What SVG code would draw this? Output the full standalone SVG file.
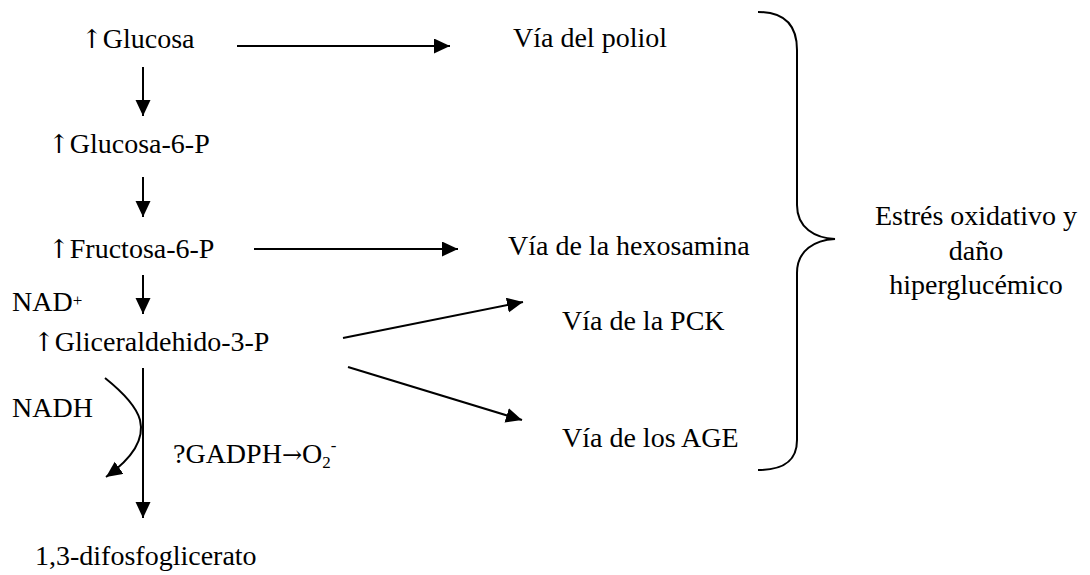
<svg xmlns="http://www.w3.org/2000/svg" width="1090" height="575" viewBox="0 0 1090 575">
<style>
text{font-family:'Liberation Serif','Times New Roman',Times,serif;font-size:28px;fill:#000}
.ar{font-family:'DejaVu Serif',serif;font-size:26px}
.c{stroke:#000;stroke-width:2;fill:none}
.mid{text-anchor:middle}
</style>
<defs>
<marker id="ah" markerUnits="userSpaceOnUse" markerWidth="17" markerHeight="16" refX="16" refY="7.5" orient="auto">
<path d="M0,0 L16,7.5 L0,15 z" fill="#000"/>
</marker>
</defs>
<rect width="1090" height="575" fill="#fff"/>
<g id="connectors">
<line class="c" x1="237" y1="46" x2="450" y2="46" marker-end="url(#ah)"/>
<line class="c" x1="254" y1="249" x2="458" y2="249" marker-end="url(#ah)"/>
<line class="c" x1="143" y1="67" x2="143" y2="116" marker-end="url(#ah)"/>
<line class="c" x1="143" y1="177" x2="143" y2="217" marker-end="url(#ah)"/>
<line class="c" x1="143" y1="275" x2="143" y2="314" marker-end="url(#ah)"/>
<line class="c" x1="143" y1="368" x2="143" y2="518" marker-end="url(#ah)"/>
<line class="c" x1="343" y1="338" x2="523" y2="302" marker-end="url(#ah)"/>
<line class="c" x1="348" y1="367" x2="522" y2="420" marker-end="url(#ah)"/>
<path class="c" d="M105,378 C120,390 136,405 140,420 C145,440 130,460 106,477" marker-end="url(#ah)"/>
<path class="c" d="M758,12 C785,12 797,25 797,50 L797,205 C797,228 815,238 835,239 C815,240 797,250 797,273 L797,440 C797,460 785,470 758,470"/>
</g>
<g id="glucosa"><text x="81" y="48"><tspan class="ar">↑</tspan>Glucosa</text></g>
<g id="poliol"><text x="513" y="47">Vía del poliol</text></g>
<g id="glucosa6p"><text x="48" y="153"><tspan class="ar">↑</tspan>Glucosa-6-P</text></g>
<g id="fructosa6p"><text x="48" y="258"><tspan class="ar">↑</tspan>Fructosa-6-P</text></g>
<g id="hexosamina"><text x="508" y="255">Vía de la hexosamina</text></g>
<g id="nad"><text x="12" y="311">NAD<tspan font-size="17" dy="-5">+</tspan></text></g>
<g id="gliceraldehido"><text x="33" y="351"><tspan class="ar">↑</tspan>Gliceraldehido-3-P</text></g>
<g id="pck"><text x="562" y="330">Vía de la PCK</text></g>
<g id="age"><text x="562" y="447">Vía de los AGE</text></g>
<g id="nadh"><text x="12" y="417">NADH</text></g>
<g id="gadph"><text x="173" y="463">?GADPH<tspan font-family="DejaVu Serif" font-size="24">→</tspan>O<tspan font-size="17" dy="5">2</tspan><tspan font-size="17" dy="-17">-</tspan></text></g>
<g id="difosfoglicerato"><text x="35" y="565">1,3-difosfoglicerato</text></g>
<g id="estres"><text class="mid" x="976" y="225">Estrés oxidativo y</text><text class="mid" x="976" y="260">daño</text><text class="mid" x="976" y="294">hiperglucémico</text></g>
</svg>
